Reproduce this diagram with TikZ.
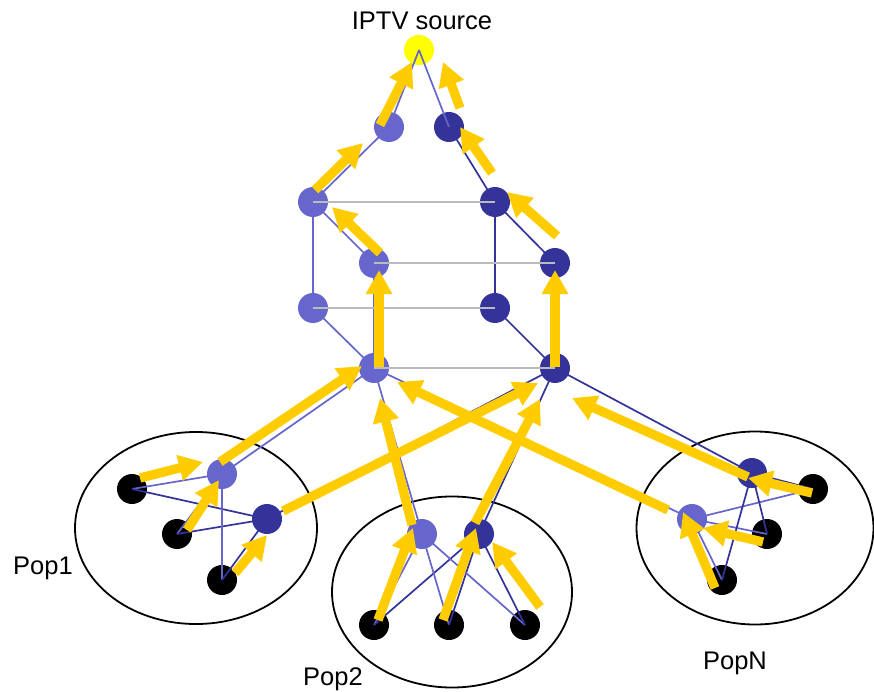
\documentclass[tikz,border=0pt]{standalone}
\usepackage{fontspec}
\setmainfont{Liberation Sans}
\usetikzlibrary{arrows.meta,shapes.geometric}
\definecolor{lb}{HTML}{6666CC}
\definecolor{db}{HTML}{333399}
\definecolor{ay}{HTML}{FFCC00}
\definecolor{gl}{HTML}{BBBBBB}
\definecolor{srcy}{HTML}{FFFF00}
\begin{document}
\begin{tikzpicture}[x=1pt,y=-1pt,
  dot/.style={circle,inner sep=0pt,minimum size=30pt},
  lbn/.style={dot,fill=lb}, dbn/.style={dot,fill=db}, bkn/.style={dot,fill=black},
  srcn/.style={dot,fill=srcy},
  le/.style={draw=lb,line width=1.7pt}, de/.style={draw=db,line width=1.7pt},
  ge/.style={draw=gl,line width=2.5pt},
  ya/.style={draw=ay,line width=9.3pt,-{Triangle[width=25pt,length=24pt]}},
  popell/.style={draw=black,line width=1.8pt,ellipse,inner sep=0pt},
  lbl/.style={font=\fontsize{25.5}{30}\selectfont,inner sep=0pt}]
\useasboundingbox (0,0) rectangle (874,692);
\fill[white] (0,0) rectangle (874,692);
% ellipses
\node[popell,minimum width=242pt,minimum height=192pt] (pop1) at (196,528) {};
\node[popell,minimum width=240pt,minimum height=191pt] (pop2) at (452,592) {};
\node[popell,minimum width=237pt,minimum height=193pt] (popn) at (755,528) {};
% labels
\node[lbl] (tsrc) at (422,21) {IPTV source};
\node[lbl] (tp1) at (43,568) {Pop1};
\node[lbl] (tp2) at (333,679) {Pop2};
\node[lbl] (tpn) at (735,663) {PopN};
% core nodes
\node[srcn] (src) at (419,50) {};
\node[lbn] (L1) at (389,127) {};
\node[dbn] (R1) at (449,127) {};
\node[lbn] (L2) at (313,202) {};
\node[dbn] (R2) at (495,202) {};
\node[lbn] (L3) at (374,263) {};
\node[dbn] (R3) at (555,263) {};
\node[lbn] (L4) at (313,308) {};
\node[dbn] (R4) at (495,308) {};
\node[lbn] (L5) at (374,368) {};
\node[dbn] (R5) at (555,368) {};
% Pop1
\node[bkn] (a1) at (132,489) {};
\node[bkn] (b1) at (177,534) {};
\node[bkn] (c1) at (222,580) {};
\node[lbn] (P1L) at (222,474) {};
\node[dbn] (P1R) at (267,519) {};
% Pop2
\node[bkn] (a2) at (374,625) {};
\node[bkn] (b2) at (449,625) {};
\node[bkn] (c2) at (525,625) {};
\node[lbn] (P2L) at (422,534) {};
\node[dbn] (P2R) at (479,534) {};
% PopN
\node[bkn] (an) at (813,489) {};
\node[bkn] (bn) at (767,534) {};
\node[bkn] (cn) at (722,580) {};
\node[lbn] (PNL) at (692,519) {};
\node[dbn] (PNR) at (752,473) {};
% thin edges
\draw[le] (src.center) -- (L1.center) -- (L2.center);
\draw[le] (src.center) -- (R1.center);
\draw[de] (R1.center) -- (R2.center);
\draw[le] (L2.center) -- (L4.center) -- (L5.center);
\draw[le] (L2.center) -- (L3.center) -- (L5.center);
\draw[de] (R2.center) -- (R4.center) -- (R5.center);
\draw[de] (R2.center) -- (R3.center) -- (R5.center);
\draw[le] (L5.center) -- (P1L.center);
\draw[le] (L5.center) -- (P2L.center);
\draw[le] (L5.center) -- (PNL.center);
\draw[de] (R5.center) -- (P1R.center);
\draw[de] (R5.center) -- (P2R.center);
\draw[de] (R5.center) -- (PNR.center);
\foreach \b in {a1,b1,c1} {\draw[le] (P1L.center) -- (\b.center); \draw[de] (P1R.center) -- (\b.center);}
\foreach \b in {a2,b2,c2} {\draw[le] (P2L.center) -- (\b.center); \draw[de] (P2R.center) -- (\b.center);}
\foreach \b in {an,bn,cn} {\draw[le] (PNL.center) -- (\b.center); \draw[de] (PNR.center) -- (\b.center);}
% gray links
\draw[ge] (L2.center) -- (R2.center);
\draw[ge] (L3.center) -- (R3.center);
\draw[ge] (L4.center) -- (R4.center);
\draw[ge] (L5.center) -- (R5.center);
% arrow end points
\coordinate (s1) at (380,125); \coordinate (e1) at (412,62);
\coordinate (s2) at (460,108); \coordinate (e2) at (443,62);
\coordinate (s3) at (315,190); \coordinate (e3) at (363,143);
\coordinate (s4) at (492,173); \coordinate (e4) at (460,127);
\coordinate (s5) at (557,236); \coordinate (e5) at (507,192);
\coordinate (s6) at (380,253); \coordinate (e6) at (332,207);
\coordinate (s7) at (379,367); \coordinate (e7) at (379,270);
\coordinate (s8) at (555,367); \coordinate (e8) at (555,270);
\coordinate (s9) at (220,462); \coordinate (e9) at (362,366);
\coordinate (s10) at (283,511); \coordinate (e10) at (538,383);
\coordinate (s11) at (140,478); \coordinate (e11) at (203,462);
\coordinate (s12) at (187,530); \coordinate (e12) at (219,480);
\coordinate (s13) at (235,573); \coordinate (e13) at (267,535);
\coordinate (s14) at (412,525); \coordinate (e14) at (380,398);
\coordinate (s15) at (475,523); \coordinate (e15) at (540,399);
\coordinate (s16) at (378,620); \coordinate (e16) at (413,528);
\coordinate (s17) at (443,620); \coordinate (e17) at (476,528);
\coordinate (s18) at (540,607); \coordinate (e18) at (492,542);
\coordinate (s19) at (668,510); \coordinate (e19) at (397,382);
\coordinate (s20) at (748,477); \coordinate (e20) at (572,398);
\coordinate (s21) at (812,493); \coordinate (e21) at (748,478);
\coordinate (s22) at (763,542); \coordinate (e22) at (703,528);
\coordinate (s23) at (715,588); \coordinate (e23) at (683,512);
\foreach \i in {1,...,23} {\draw[ya] (s\i) -- (e\i);}
\end{tikzpicture}
\end{document}
